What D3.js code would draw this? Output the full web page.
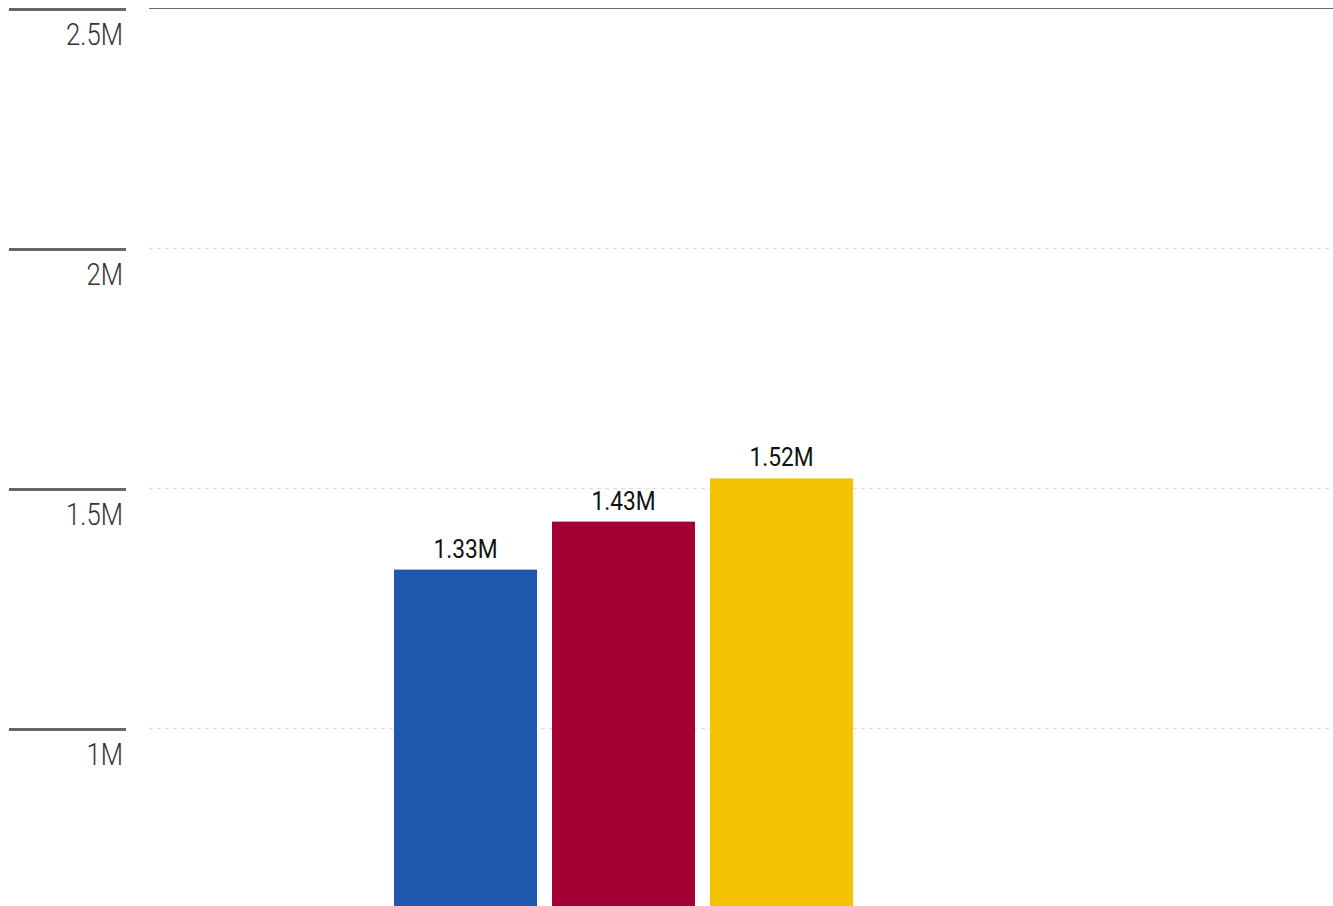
<!DOCTYPE html>
<html>
<head>
<meta charset="utf-8">
<script src="https://cdn.jsdelivr.net/npm/d3@7"></script>
<style>
  html, body { margin: 0; padding: 0; background: #fff; }
  svg { display: block; }
  text { font-family: Roboto, "Noto Sans", sans-serif; }
</style>
</head>
<body>
<svg id="chart" width="1333" height="906"></svg>
<script>
// Series shown as bars
const series = ["Series A", "Series B", "Series C"];
const values = [1330000, 1430000, 1520000];
const valueLabels = ["1.33M", "1.43M", "1.52M"];
const colors = ["#2057ae", "#a50034", "#f4c300"];

// Y axis ticks
const tickValues = [1000000, 1500000, 2000000, 2500000];
const tickLabels = ["1M", "1.5M", "2M", "2.5M"];

const W = 1333, H = 906;
const plotLeft = 149, plotRight = W;

const svg = d3.select("#chart");

const y = d3.scaleLinear().domain([1000000, 2500000]).range([728, 8]);

const x = d3.scaleBand()
  .domain(series)
  .range([394, 853])
  .paddingInner(0.095)
  .paddingOuter(0);

// gridlines: solid at the top, dashed elsewhere
const topTick = d3.max(tickValues);
svg.append("g").selectAll("line")
  .data(tickValues)
  .join("line")
  .attr("x1", plotLeft)
  .attr("x2", plotRight)
  .attr("y1", d => y(d) + 0.5)
  .attr("y2", d => y(d) + 0.5)
  .attr("stroke", d => d === topTick ? "#6b6b6b" : "#dedede")
  .attr("stroke-width", d => d === topTick ? 1 : 1.5)
  .attr("stroke-dasharray", d => d === topTick ? null : "4 4");

// axis tick bars and labels
const axis = svg.append("g");
axis.selectAll("rect")
  .data(tickValues)
  .join("rect")
  .attr("x", 9)
  .attr("width", 117)
  .attr("y", d => y(d))
  .attr("height", 3)
  .attr("fill", "#666");

axis.selectAll("text")
  .data(tickValues)
  .join("text")
  .attr("transform", d => `translate(123,${y(d) + 37}) scale(0.83,1)`)
  .attr("text-anchor", "end")
  .attr("font-size", 31)
  .attr("font-weight", 300)
  .attr("fill", "#333")
  .text((d, i) => tickLabels[i]);

// bars
svg.append("g").selectAll("rect")
  .data(series)
  .join("rect")
  .attr("x", d => x(d))
  .attr("width", x.bandwidth())
  .attr("y", (d, i) => y(values[i]))
  .attr("height", (d, i) => H - y(values[i]))
  .attr("fill", (d, i) => colors[i]);

// value labels
svg.append("g").selectAll("text")
  .data(series)
  .join("text")
  .attr("transform", (d, i) => `translate(${x(d) + x.bandwidth() / 2},${y(values[i]) - 12}) scale(0.875,1)`)
  .attr("text-anchor", "middle")
  .attr("font-size", 26)
  .attr("fill", "#111")
  .text((d, i) => valueLabels[i]);
</script>
</body>
</html>
